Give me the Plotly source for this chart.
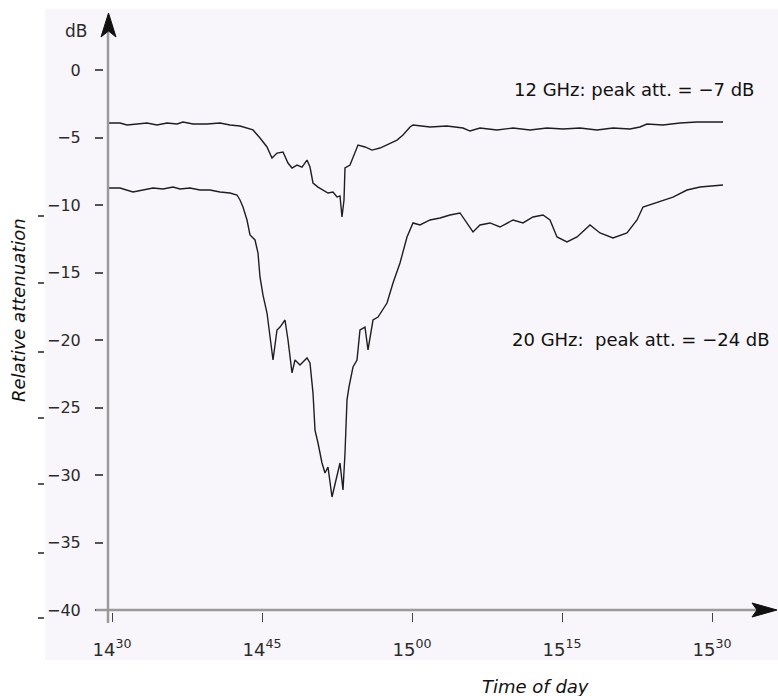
import plotly.graph_objects as go

# ---- data (minutes after 14:30, relative attenuation in dB) ----
t12 = [-0.4, 0.8, 1.5, 2.5, 3.5, 4.5, 5.5, 6.5, 7.1, 8.1, 9.5, 10.8, 11.8, 12.8, 14.1, 14.8,
       15.5, 16.0, 16.5, 17.1, 17.6, 18.0, 18.5, 19.0, 19.5, 19.8, 20.1, 20.6, 21.1, 21.6,
       22.1, 22.5, 22.8, 23.0, 23.2, 23.3, 23.8, 24.6, 25.3, 26.0, 26.8, 27.8, 28.5, 29.1,
       29.8, 30.1, 31.8, 33.5, 35.1, 35.8, 36.8, 38.5, 40.1, 41.8, 43.5, 45.1, 46.8, 48.5,
       50.1, 51.8, 52.8, 53.5, 55.1, 56.8, 58.5, 61.1]
a12 = [-3.93, -3.93, -4.07, -4.0, -3.93, -4.07, -3.93, -4.0, -3.85, -4.0, -4.0, -3.93, -4.07,
       -4.15, -4.44, -5.04, -5.7, -6.52, -6.15, -6.07, -6.89, -7.26, -7.04, -7.19, -6.67,
       -7.19, -8.37, -8.67, -8.89, -9.11, -9.04, -9.41, -9.33, -10.89, -9.63, -7.26, -7.04,
       -5.56, -5.7, -5.93, -5.78, -5.41, -5.19, -4.81, -4.22, -4.07, -4.22, -4.15, -4.3,
       -4.52, -4.3, -4.44, -4.3, -4.44, -4.3, -4.37, -4.3, -4.44, -4.3, -4.37, -4.22, -4.0,
       -4.07, -3.93, -3.85, -3.85]

t20 = [-0.4, 0.8, 2.1, 3.1, 4.1, 5.1, 6.1, 6.8, 7.8, 8.8, 9.8, 10.8, 11.8, 12.5, 12.8, 13.1,
       13.5, 13.8, 14.3, 14.6, 14.8, 15.1, 15.5, 16.1, 16.5, 16.8, 17.3, 17.6, 18.0, 18.3,
       18.8, 19.5, 19.8, 20.1, 20.3, 20.6, 21.0, 21.3, 21.6, 22.0, 22.3, 22.8, 23.1, 23.3,
       23.5, 23.7, 24.1, 24.5, 24.8, 25.3, 25.6, 26.1, 26.6, 27.5, 28.1, 28.8, 29.5, 30.1,
       30.8, 31.8, 32.8, 33.8, 34.8, 35.5, 36.1, 36.8, 37.8, 38.8, 40.1, 41.1, 42.1, 43.1,
       43.8, 44.5, 45.5, 46.5, 47.8, 48.8, 50.1, 51.5, 52.5, 53.1, 54.5, 56.1, 57.5, 58.8,
       61.1]
a20 = [-8.74, -8.74, -9.04, -8.89, -8.74, -8.81, -8.67, -8.81, -8.74, -8.89, -8.89, -9.04,
       -9.11, -9.26, -9.63, -10.15, -11.11, -12.22, -12.59, -13.56, -15.33, -16.67, -18.0,
       -21.48, -19.26, -19.04, -18.52, -20.0, -22.44, -21.48, -21.85, -21.33, -21.7, -23.93,
       -26.67, -27.63, -29.11, -29.85, -29.41, -31.63, -30.59, -29.11, -31.11, -28.37,
       -24.44, -23.48, -22.0, -21.48, -19.26, -19.04, -20.74, -18.52, -18.3, -17.26, -15.78,
       -14.3, -12.37, -11.33, -11.48, -11.11, -10.96, -10.74, -10.59, -11.33, -12.0, -11.48,
       -11.33, -11.63, -11.11, -11.33, -10.89, -10.74, -11.11, -12.37, -12.74, -12.37,
       -11.48, -12.07, -12.44, -12.07, -11.11, -10.15, -9.78, -9.41, -8.89, -8.67, -8.52]

x_tickvals = [0, 15, 30, 45, 60]
x_ticktext = ["14<sup>30</sup>", "14<sup>45</sup>", "15<sup>00</sup>", "15<sup>15</sup>", "15<sup>30</sup>"]
y_tickvals = [0, -5, -10, -15, -20, -25, -30, -35, -40]
y_ticktext = ["0", "\u22125", "\u221210", "\u221215", "\u221220", "\u221225", "\u221230", "\u221235", "\u221240"]

label12 = "12 GHz: peak att. = \u22127 dB"
label20 = "20 GHz:\u00a0 peak att. = \u221224 dB"

# ---- layout geometry (pixels) ----
W, H = 778, 696
L, R, T, B = 104, 0, 10, 84
PW, PH = W - L - R, H - T - B


def PX(px):
    return (px - L) / PW


def PY(py):
    return (H - B - py) / PH


FONT = "DejaVu Sans"
INK = "#1e1e1e"
AXC = "#9a9a9a"

fig = go.Figure()
fig.add_trace(go.Scatter(x=t12, y=a12, mode="lines", line=dict(color=INK, width=1.4),
                         showlegend=False, hoverinfo="x+y"))
fig.add_trace(go.Scatter(x=t20, y=a20, mode="lines", line=dict(color=INK, width=1.4),
                         showlegend=False, hoverinfo="x+y"))

shapes = [
    # scanned page background
    dict(type="rect", xref="paper", yref="paper", x0=PX(45), x1=PX(778), y0=PY(660), y1=PY(9),
         fillcolor="#f8f6fa", line=dict(width=0), layer="below"),
    # y axis line
    dict(type="line", xref="paper", yref="paper", x0=PX(108), x1=PX(108), y0=PY(30), y1=PY(623),
         line=dict(color=AXC, width=2.5)),
    # x axis line
    dict(type="line", xref="paper", yref="paper", x0=PX(96), x1=PX(760), y0=PY(610), y1=PY(610),
         line=dict(color=AXC, width=2.5)),
    # y arrowhead
    dict(type="path", xref="paper", yref="paper",
         path=f"M {PX(108.5)},{PY(13)} L {PX(116)},{PY(37)} L {PX(108.5)},{PY(31)} L {PX(101)},{PY(37)} Z",
         fillcolor="#111111", line=dict(color="#111111", width=1)),
    # x arrowhead
    dict(type="path", xref="paper", yref="paper",
         path=f"M {PX(777)},{PY(610)} L {PX(752)},{PY(603)} L {PX(757)},{PY(610)} L {PX(752)},{PY(617)} Z",
         fillcolor="#111111", line=dict(color="#111111", width=1)),
]
for yy in [216, 283, 352, 418, 484, 553, 618]:
    shapes.append(dict(type="line", xref="paper", yref="paper", x0=PX(38), x1=PX(44),
                       y0=PY(yy), y1=PY(yy), line=dict(color="#222222", width=1.5)))

ann = [
    dict(text="dB", x=PX(76), y=PY(31), xanchor="center", yanchor="middle",
         font=dict(size=17, color="#2a2a2a")),
    dict(text="<i>Relative attenuation</i>", x=PX(18), y=PY(310), xanchor="center", yanchor="middle",
         textangle=-90, font=dict(size=18, color="#111111")),
    dict(text="<i>Time of day</i>", x=PX(535), y=PY(686), xanchor="center", yanchor="middle",
         font=dict(size=18, color="#111111")),
    dict(text=label12, x=PX(512), y=PY(90), xanchor="left", yanchor="middle",
         font=dict(size=18, color="#111111")),
    dict(text=label20, x=PX(510), y=PY(339), xanchor="left", yanchor="middle",
         font=dict(size=18, color="#111111")),
]
for a in ann:
    a.update(xref="paper", yref="paper", showarrow=False)

fig.update_layout(
    width=W, height=H,
    margin=dict(l=L, r=R, t=T, b=B, pad=0),
    paper_bgcolor="white", plot_bgcolor="rgba(0,0,0,0)",
    font=dict(family=FONT, color="#333333", size=16),
    shapes=shapes, annotations=ann, showlegend=False,
    xaxis=dict(range=[-0.8, -0.8 + PW / 10.0], showgrid=False, zeroline=False, showline=False,
               tickvals=x_tickvals, ticktext=x_ticktext, ticks="outside", ticklen=9,
               tickwidth=1.2, tickcolor="#444444", ticklabelstandoff=12,
               tickfont=dict(size=18, color="#2a2a2a")),
    yaxis=dict(range=[-40 - 2 / 13.5, -40 - 2 / 13.5 + PH / 13.5], showgrid=False, zeroline=False,
               showline=False, tickvals=y_tickvals, ticktext=y_ticktext, ticks="outside",
               ticklen=8, tickwidth=1.5, tickcolor="#555555", ticklabelstandoff=11,
               tickfont=dict(size=16, color="#2a2a2a")),
)

fig.write_html("out.html")
